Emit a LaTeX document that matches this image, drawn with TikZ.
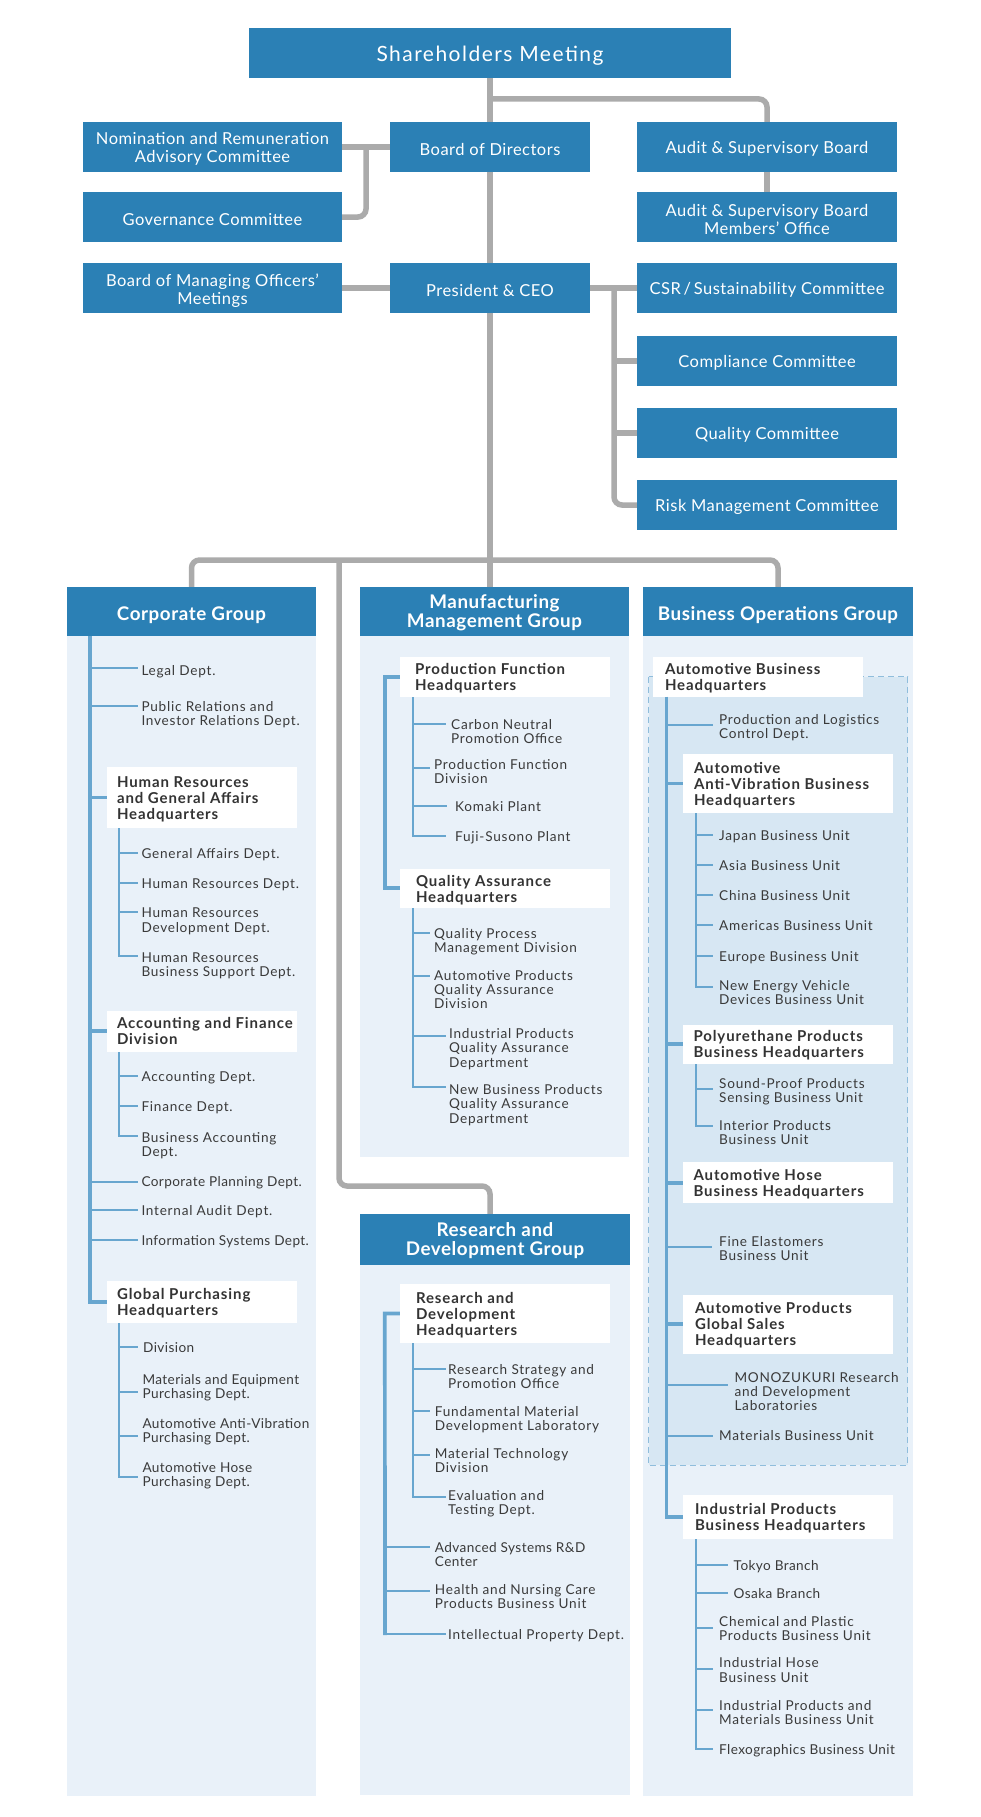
\documentclass[tikz,border=0pt]{standalone}
\usepackage{fontspec}
\setmainfont{Lato}
\newfontfamily\latoreg{Lato}[LetterSpace=3]
\newfontfamily\latowide{Lato}[LetterSpace=5.5]
\newfontfamily\latotop{Lato}[LetterSpace=3]
\newfontfamily\latosh{Lato}[LetterSpace=7]
\newfontfamily\latohq{Lato}[LetterSpace=6]
\newfontfamily\latogrp{Lato}[LetterSpace=3]
\definecolor{hdr}{HTML}{2B80B5}
\definecolor{gl}{HTML}{ABABAB}
\definecolor{bl}{HTML}{68A6CF}
\definecolor{pan}{HTML}{E9F1F9}
\definecolor{dsh}{HTML}{D7E7F3}
\definecolor{dshl}{HTML}{8FBDDC}
\definecolor{txt}{HTML}{3A3A3A}
\definecolor{hqt}{HTML}{333333}
\newcommand\topf{\latotop\fontsize{16.5}{18}\selectfont}
\newcommand\shf{\latosh\fontsize{21}{24}\selectfont}
\newcommand\grpf{\latogrp\bfseries\fontsize{18.8}{19.2}\selectfont}
\newcommand\hqf{\latohq\bfseries\fontsize{15}{16}\selectfont}
\newcommand\itf{\latowide\fontsize{13.6}{14.3}\selectfont}
\newcommand\itfn{\latoreg\fontsize{13.6}{14.3}\selectfont}
\newcommand\mlt[1]{\begin{tabular}[t]{@{}l@{}}#1\end{tabular}}
% item: name, vertical x, branch y, branch end x, text x, text base y, text
\newcommand\itm[7]{\draw[bthin] (#2,#3) -- (#4,#3);
  \node[itemtxt] (#1) at (#5,#6) {\mlt{#7}};}
% same, with tighter tracking
\newcommand\itmn[7]{\draw[bthin] (#2,#3) -- (#4,#3);
  \node[itemtxt, font=\itfn] (#1) at (#5,#6) {\mlt{#7}};}
% headquarters box: name, centre, width, height, text indent, text
\newcommand\hqb[6]{\node[hqbox, minimum width=#3, minimum height=#4] (#1) at (#2) {};
  \node[hqtxt] (#1t) at ([xshift=#5, yshift=-2.5pt]#1.west) {\mlt{#6}};}
% top box: [text options] name, centre, width, text
\newcommand\topbox[5][]{\node[topbox, minimum width=#4] (#2) at (#3) {};
  \node[toptxt, #1] (#2t) at ([yshift=-2.3pt]#2.center) {#5};}
% group header: name, centre, width, height, text shift, text
\newcommand\grpbox[6]{\node[grp, minimum width=#3, minimum height=#4] (#1) at (#2) {};
  \node[grptxt] (#1t) at ([yshift=#5]#1.center) {#6};}
\begin{document}
\begin{tikzpicture}[x=1pt,y=-1pt,
  gline/.style={draw=gl, line width=5.5pt},
  bthick/.style={draw=bl, line width=3.7pt},
  bthin/.style={draw=bl, line width=2pt, line cap=rect},
  topbox/.style={fill=hdr, inner sep=0pt, minimum height=50pt},
  toptxt/.style={text=white, font=\topf, align=center, inner sep=0pt},
  grp/.style={fill=hdr, inner sep=0pt},
  grptxt/.style={text=white, font=\grpf, align=center, inner sep=0pt},
  hqbox/.style={fill=white, inner sep=0pt},
  hqtxt/.style={inner sep=0pt, text=hqt, font=\hqf, anchor=west},
  itemtxt/.style={inner sep=0pt, text=txt, font=\itf, anchor=base west}]
\useasboundingbox (0,0) rectangle (980,1817);
\fill[white] (0,0) rectangle (980,1817);

% ---------- panels ----------
\fill[pan] (67,636) rectangle (316,1796);
\fill[pan] (360,636) rectangle (629,1157);
\fill[pan] (643,636) rectangle (913,1796);
\fill[pan] (360,1265) rectangle (630,1795);
\draw[dshl, line width=1pt, dash pattern=on 6pt off 4pt, fill=dsh] (648.6,676.7) rectangle (907.8,1465);

% ---------- Corporate group tree ----------
\coordinate (cv) at (90,636);
\draw[bthin] (119.3,828) -- (119.3,956);
\draw[bthin] (119.3,1051.7) -- (119.3,1136);
\draw[bthin] (119.3,1322.7) -- (119.3,1477.3);
\itm{legal}{90}{668.3}{136.7}{141.3}{675}{Legal Dept.}
\itm{pr}{90}{705.7}{136.7}{141.3}{711}{Public Relations and\\Investor Relations Dept.}
\itm{ga}{119.3}{852.7}{136.7}{141.3}{858}{General Affairs Dept.}
\itm{hrd}{119.3}{882.7}{136.7}{141.3}{888}{Human Resources Dept.}
\itm{hrdev}{119.3}{912.3}{136.7}{141.3}{917.8}{Human Resources\\Development Dept.}
\itm{hrbs}{119.3}{956}{136.7}{141.3}{962}{Human Resources\\Business Support Dept.}
\itm{acd}{119.3}{1076.3}{136.7}{141.3}{1081.8}{Accounting Dept.}
\itm{fin}{119.3}{1106.3}{136.7}{141.3}{1111.8}{Finance Dept.}
\itm{bacc}{119.3}{1136}{136.7}{141.3}{1142}{Business Accounting\\Dept.}
\itmn{cpd}{90}{1181.7}{136.7}{141.3}{1186}{Corporate Planning Dept.}
\itm{iad}{90}{1210}{136.7}{141.3}{1215.8}{Internal Audit Dept.}
\itmn{isd}{90}{1240}{136.7}{141.3}{1245.8}{Information Systems Dept.}
\itmn{div}{119.3}{1346.7}{136.7}{143}{1352}{Division}
\itmn{mep}{119.3}{1392.3}{136.7}{142.3}{1384.5}{Materials and Equipment\\Purchasing Dept.}
\itmn{avp}{119.3}{1436}{136.7}{142.3}{1428}{Automotive Anti-Vibration\\Purchasing Dept.}
\itmn{ahp}{119.3}{1477.3}{136.7}{142.3}{1472}{Automotive Hose\\Purchasing Dept.}
\hqb{hr}{202,797.5}{190}{61}{10pt}{Human Resources\\and General Affairs\\Headquarters}
\hqb{acc}{202,1031.2}{190}{41}{10pt}{Accounting and Finance\\Division}
\hqb{glob}{202,1301.85}{190}{41.7}{10pt}{Global Purchasing\\Headquarters}
\draw[bthick] (cv) |- (glob.west);
\draw[bthick] (cv |- hr.west) -- (hr.west);
\draw[bthick] (cv |- acc.west) -- (acc.west);

% ---------- Manufacturing group tree ----------
\draw[bthin] (412.7,696.7) -- (412.7,836);
\draw[bthin] (412.7,908) -- (412.7,1087.3);
\itm{cno}{412.7}{723.7}{445}{451}{729}{Carbon Neutral\\Promotion Office}
\itm{pfd}{412.7}{767.8}{429}{434}{769}{Production Function\\Division}
\itm{kom}{412.7}{805.7}{446}{455}{811}{Komaki Plant}
\itm{fuj}{412.7}{836}{445}{455}{841.5}{Fuji-Susono Plant}
\itm{qpm}{412.7}{932.6}{429}{434}{938}{Quality Process\\Management Division}
\itm{apq}{412.7}{976.3}{429}{434}{980}{Automotive Products\\Quality Assurance\\Division}
\itm{ipq}{412.7}{1036}{445}{449}{1038.5}{Industrial Products\\Quality Assurance\\Department}
\itm{nbp}{412.7}{1087.3}{445}{449}{1094.5}{New Business Products\\Quality Assurance\\Department}
\hqb{pfh}{505,676.7}{210}{40}{15pt}{Production Function\\Headquarters}
\hqb{qah}{505,888.3}{210}{39.4}{16pt}{Quality Assurance\\Headquarters}
\draw[bthick] (pfh.west) -- ++(-15,0) |- (qah.west);

% ---------- Business Operations group tree ----------
\coordinate (bv) at (666.5,696.7);
\draw[bthin] (696,812.7) -- (696,987);
\draw[bthin] (696,1063.7) -- (696,1125.7);
\draw[bthin] (696,1538.7) -- (696,1749);
\itm{plc}{666.5}{725}{712}{719}{724}{Production and Logistics\\Control Dept.}
\itm{jbu}{696}{835}{712}{719}{840.5}{Japan Business Unit}
\itm{asbu}{696}{865.3}{712}{719}{870.8}{Asia Business Unit}
\itm{cbu}{696}{895}{712}{719}{900.5}{China Business Unit}
\itm{ambu}{696}{925.3}{712}{719}{930.8}{Americas Business Unit}
\itm{ebu}{696}{955.5}{712}{719}{961}{Europe Business Unit}
\itm{nev}{696}{987}{712}{719}{990}{New Energy Vehicle\\Devices Business Unit}
\itm{sps}{696}{1089}{712}{719}{1088.5}{Sound-Proof Products\\Sensing Business Unit}
\itm{ipb}{696}{1125.7}{712}{719}{1130}{Interior Products\\Business Unit}
\itm{fe}{666.5}{1246.7}{711.4}{719}{1246}{Fine Elastomers\\Business Unit}
\itm{mono}{666.5}{1385}{727}{734.3}{1382}{MONOZUKURI Research\\and Development\\Laboratories}
\itm{mbu}{666.5}{1436}{711.8}{719}{1440.7}{Materials Business Unit}
\itmn{tok}{696}{1565}{727}{733.5}{1570.5}{Tokyo Branch}
\itmn{osa}{696}{1593.2}{727}{733.5}{1598.7}{Osaka Branch}
\itm{cpp}{696}{1628}{712}{719}{1626.3}{Chemical and Plastic\\Products Business Unit}
\itm{ihb}{696}{1669.4}{712}{719}{1667.8}{Industrial Hose\\Business Unit}
\itm{ipm}{696}{1710}{712}{719}{1710}{Industrial Products and\\Materials Business Unit}
\itmn{flx}{696}{1749}{712}{719}{1754}{Flexographics Business Unit}
\hqb{abh}{758,676.7}{210}{40}{12pt}{Automotive Business\\Headquarters}
\hqb{avh}{788,783.5}{210}{58.4}{11pt}{Automotive\\Anti-Vibration Business\\Headquarters}
\hqb{puh}{788,1044.1}{210}{39.2}{10.5pt}{Polyurethane Products\\Business Headquarters}
\hqb{ahh}{788,1182.7}{210}{40.6}{10.5pt}{Automotive Hose\\Business Headquarters}
\hqb{gsh}{788,1324}{210}{59}{12pt}{Automotive Products\\Global Sales\\Headquarters}
\hqb{iph}{788,1516.85}{210}{43.7}{12pt}{Industrial Products\\Business Headquarters}
\draw[bthick] (bv) |- (iph.west);
\draw[bthick] (bv |- avh.west) -- (avh.west);
\draw[bthick] (bv |- puh.west) -- (puh.west);
\draw[bthick] (bv |- ahh.west) -- (ahh.west);
\draw[bthick] (bv |- gsh.west) -- (gsh.west);

% ---------- R&D group tree ----------
\draw[bthin] (412.7,1342.7) -- (412.7,1497.2);
\itm{rsp}{412.7}{1368.6}{445}{448}{1374}{Research Strategy and\\Promotion Office}
\itm{fmd}{412.7}{1411.4}{429}{434.7}{1416}{Fundamental Material\\Development Laboratory}
\itm{mtd}{412.7}{1454.5}{429}{434.7}{1458}{Material Technology\\Division}
\itm{etd}{412.7}{1497.2}{445}{448}{1500.5}{Evaluation and\\Testing Dept.}
\itmn{asr}{385}{1547}{429}{434.7}{1552.5}{Advanced Systems R\&D\\Center}
\itm{hnc}{385}{1590.7}{429}{434.7}{1594.5}{Health and Nursing Care\\Products Business Unit}
\itm{ipd}{385}{1634.2}{445}{448}{1639}{Intellectual Property Dept.}
\hqb{rdh}{505,1313.55}{210}{58.3}{16pt}{Research and\\Development\\Headquarters}
\draw[bthick] (rdh.west) -- ++(-15,0) -- (385,1635);

% ---------- group headers ----------
\grpbox{corp}{191.5,611.5}{249}{49}{-3.5pt}{Corporate Group}
\grpbox{mfg}{494.5,611.5}{269}{49}{-1.2pt}{Manufacturing\\Management Group}
\grpbox{bus}{778,611.5}{270}{49}{-3.5pt}{Business Operations Group}
\grpbox{rnd}{495,1239.5}{270}{51}{-1.2pt}{Research and\\Development Group}

% ---------- grey connectors ----------
\coordinate (t1) at (490,99);
\coordinate (t2) at (366,147);
\coordinate (t3) at (614,288);
\coordinate (hub) at (490,560);
\coordinate (rdtap) at (339,560);
\coordinate (rdturn) at (490,1186);

% ---------- top boxes ----------
\topbox[font=\shf]{sh}{490,53}{482}{Shareholders Meeting}
\topbox{bod}{490,147}{200}{Board of Directors}
\topbox{nom}{212.5,147}{259}{Nomination and Remuneration\\Advisory Committee}
\topbox{gov}{212.5,217}{259}{Governance Committee}
\topbox{asb}{767,147}{260}{Audit \& Supervisory Board}
\topbox{asbo}{767,217}{260}{Audit \& Supervisory Board\\Members’ Office}
\topbox{bmo}{212.5,288}{259}{Board of Managing Officers’\\Meetings}
\topbox{ceo}{490,288}{200}{President \& CEO}
\topbox{csr}{767,288}{260}{CSR\,/\,Sustainability Committee}
\topbox{comp}{767,361}{260}{Compliance Committee}
\topbox{qual}{767,433}{260}{Quality Committee}
\topbox{risk}{767,505}{260}{Risk Management Committee}

\draw[gline] (sh) -- (bod);
\draw[gline, rounded corners=8pt] (t1) -| (asb.north);
\draw[gline] (nom) -- (bod);
\draw[gline, rounded corners=8pt] (t2) |- (gov.east);
\draw[gline] (asb) -- (asbo);
\draw[gline] (bod) -- (ceo);
\draw[gline] (bmo) -- (ceo);
\draw[gline] (ceo) -- (csr);
\draw[gline, rounded corners=8pt] (t3) |- (risk.west);
\draw[gline] (t3 |- comp.west) -- (comp.west);
\draw[gline] (t3 |- qual.west) -- (qual.west);
\draw[gline] (ceo.south) -- (ceo.south |- mfg.north);
\draw[gline, rounded corners=8pt] (corp.north) |- (hub) -| (bus.north);
\draw[gline, rounded corners=8pt] (rdtap) |- (rdturn) -- (rdturn |- rnd.north);
\end{tikzpicture}
\end{document}
